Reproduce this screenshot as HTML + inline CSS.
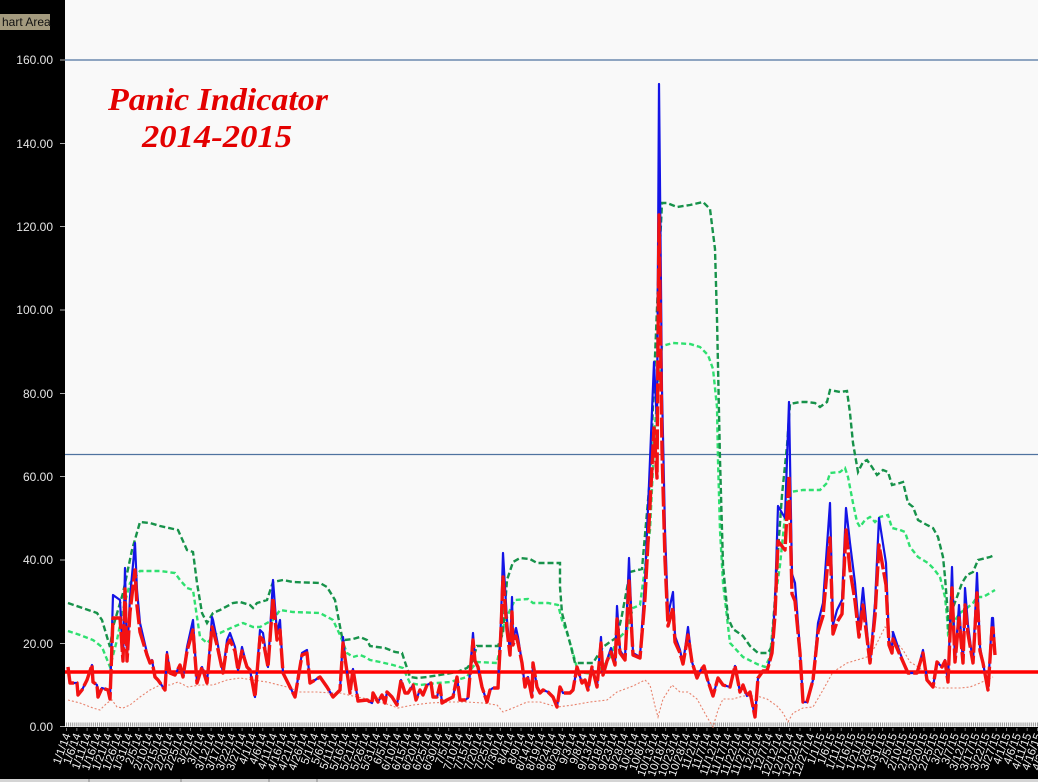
<!DOCTYPE html>
<html><head><meta charset="utf-8">
<style>
html,body{margin:0;padding:0;background:#000;}
svg{display:block;}
.yl{font-family:"Liberation Sans",sans-serif;font-size:12px;fill:#e6e6e6;text-anchor:end;}
.xl text{font-family:"Liberation Sans",sans-serif;font-size:11.5px;fill:#f0f0f0;text-anchor:end;dominant-baseline:central;}
</style></head>
<body>
<svg width="1038" height="782" viewBox="0 0 1038 782" xmlns="http://www.w3.org/2000/svg">
<rect x="0" y="0" width="1038" height="782" fill="#000"/>
<rect x="65" y="0" width="973" height="727" fill="#f9f9f9"/>
<!-- tooltip -->
<rect x="0" y="14" width="50" height="16" fill="#a39a7e"/>
<text x="2" y="26" font-family="Liberation Sans, sans-serif" font-size="12" fill="#111">hart Area</text>
<!-- y labels and ticks -->
<g class="yl">
<text x="53" y="731">0.00</text>
<text x="53" y="648">20.00</text>
<text x="53" y="564">40.00</text>
<text x="53" y="481">60.00</text>
<text x="53" y="398">80.00</text>
<text x="53" y="314">100.00</text>
<text x="53" y="231">120.00</text>
<text x="53" y="148">140.00</text>
<text x="53" y="64">160.00</text>
</g>
<g stroke="#aaa" stroke-width="1">
<line x1="60" y1="726.5" x2="65" y2="726.5"/><line x1="60" y1="643.5" x2="65" y2="643.5"/>
<line x1="60" y1="560" x2="65" y2="560"/><line x1="60" y1="476.5" x2="65" y2="476.5"/>
<line x1="60" y1="393.5" x2="65" y2="393.5"/><line x1="60" y1="310" x2="65" y2="310"/>
<line x1="60" y1="226.5" x2="65" y2="226.5"/><line x1="60" y1="143.5" x2="65" y2="143.5"/>
<line x1="60" y1="60" x2="65" y2="60"/>
</g>
<!-- horizontal blue lines -->
<line x1="65" y1="60" x2="1038" y2="60" stroke="#4f73a0" stroke-width="1.3"/>
<line x1="65" y1="454.5" x2="1038" y2="454.5" stroke="#4f73a0" stroke-width="1.3"/>
<!-- axis minor ticks -->
<line x1="66" y1="724.5" x2="1038" y2="724.5" stroke="#9a9a9a" stroke-width="4" stroke-dasharray="1 1.066"/>
<line x1="66" y1="729.5" x2="1038" y2="729.5" stroke="#777" stroke-width="3" stroke-dasharray="1 9.33"/>
<!-- title -->
<text x="108" y="110" font-family="Liberation Serif, serif" font-weight="bold" font-style="italic" font-size="32" fill="#e30000" textLength="220" lengthAdjust="spacingAndGlyphs">Panic Indicator</text>
<text x="142" y="147" font-family="Liberation Serif, serif" font-weight="bold" font-style="italic" font-size="32" fill="#e30000" textLength="150" lengthAdjust="spacingAndGlyphs">2014-2015</text>

<!-- orange lower band -->
<polyline fill="none" stroke="#e8826c" stroke-width="1.1" stroke-dasharray="2 2" points="68,700 80,703 93,708 100,710 107,703 112,700 117,707 123,708 130,705 140,697 150,690 160,685 170,685 178,682 188,687 200,685 213,685 227,680 240,678 253,680 267,682 287,687 300,692 317,692 333,693 340,693 357,697 373,700 390,705 398,708 413,705 430,703 450,702 467,702 483,703 497,705 503,712 513,708 527,702 540,702 557,707 573,705 590,702 607,700 617,692 633,686 645,680 650,685 655,706 658,717 663,699 672,685 680,692 688,692 697,699 707,717 713,727 718,710 723,699 733,699 743,696 757,696 767,699 777,706 783,713 788,722 793,713 803,708 813,707 823,690 833,672 847,663 857,660 867,657 875,647 885,627 892,632 897,643 903,650 910,662 920,668 930,682 937,688 947,688 960,688 970,687 980,683 993,677"/>

<!-- light green middle band -->
<polyline fill="none" stroke="#2fe070" stroke-width="2.4" stroke-dasharray="5 3" points="68,631 80,635 93,640 102,647 110,667 117,640 123,610 130,583 140,571 160,571 175,573 180,580 187,588 193,590 197,617 200,637 207,643 217,633 220,633 233,627 243,623 253,627 260,627 267,623 273,620 280,610 293,612 320,613 333,620 340,635 347,653 353,657 360,655 365,657 370,660 380,662 393,665 403,668 410,683 420,685 437,683 450,682 467,677 472,668 477,662 497,663 500,647 503,627 510,610 515,600 528,599 533,603 548,603 558,605 562,620 567,633 573,653 578,672 593,674 603,667 610,657 617,640 627,630 633,608 640,605 650,530 655,425 662,346 673,343 690,344 700,347 708,355 713,369 717,407 718,460 720,530 723,583 730,643 743,657 757,664 765,667 770,657 775,601 780,565 785,516 790,492 803,490 820,490 827,483 830,473 840,472 845,468 848,477 853,503 857,522 860,527 865,520 870,517 875,522 880,517 888,515 892,528 900,530 905,532 910,547 918,557 928,563 933,568 940,577 945,597 947,617 948,633 953,623 960,613 967,608 973,603 977,597 983,597 990,593 995,590"/>

<!-- dark green upper band -->
<polyline fill="none" stroke="#17924a" stroke-width="2.4" stroke-dasharray="6 3" points="68,603 97,613 102,620 110,647 113,627 123,593 132,550 140,522 150,523 160,526 178,530 187,550 193,552 197,583 202,613 207,623 213,613 220,610 233,603 240,602 250,605 253,608 257,603 267,600 273,582 283,580 293,582 320,583 327,587 335,600 342,637 345,640 353,639 360,637 367,640 370,646 377,647 385,648 395,652 402,653 410,677 417,678 427,677 440,675 457,672 467,668 472,662 477,646 498,646 503,633 507,580 513,562 520,558 530,559 537,563 560,563 560,587 562,613 570,643 575,663 593,663 603,647 617,637 622,615 630,572 642,569 650,478 658,284 662,203 667,203 677,207 690,205 703,202 710,209 715,249 717,319 720,460 723,565 728,618 733,629 743,636 750,646 758,653 768,653 772,646 777,565 782,495 787,446 790,404 800,402 807,402 815,403 820,407 827,402 830,390 840,392 847,391 850,413 853,443 858,472 863,462 867,460 872,467 877,475 883,470 888,472 892,485 900,483 903,482 908,503 913,507 918,520 927,525 933,528 938,537 943,557 945,577 947,603 949,633 952,610 957,597 962,583 967,575 973,572 978,560 990,557 995,555"/>

<!-- red horizontal threshold -->
<line x1="65" y1="672" x2="1038" y2="672" stroke="#ff0000" stroke-width="3.6"/>

<!-- blue main series -->
<polyline fill="none" stroke="#1414e6" stroke-width="2.2" stroke-linejoin="round" points="68,667 70,683 77,683 78,695 82,690 87,680 92,665 93,682 97,685 98,697 102,688 108,690 110,699 113,595 120,600 123,660 125,568 127,660 130,597 135,543 137,590 140,623 147,653 150,663 152,660 155,677 158,680 165,690 167,652 170,673 175,675 180,665 183,677 187,647 193,620 197,683 202,667 207,683 212,617 213,620 217,640 223,673 227,640 230,633 235,647 238,670 242,647 247,667 250,670 255,697 260,630 263,633 268,667 273,580 277,633 280,620 283,673 290,687 295,697 302,653 307,650 310,683 315,680 320,677 327,687 333,697 340,690 343,637 345,657 350,693 353,669 358,701 367,700 372,703 373,693 378,702 382,695 385,703 387,692 392,697 397,705 401,680 405,693 408,693 413,685 416,700 420,690 423,695 427,685 431,683 433,697 437,697 440,685 442,703 447,700 453,697 457,677 460,700 465,700 468,698 473,633 475,660 478,667 482,687 487,702 490,690 493,688 498,688 501,620 503,553 505,587 507,620 510,653 512,597 513,640 516,628 518,637 522,663 525,687 528,677 532,697 533,663 537,687 540,693 543,690 548,692 553,697 557,707 560,687 563,693 570,693 573,690 577,667 582,683 585,680 588,690 592,667 597,687 601,637 603,675 607,660 611,648 615,665 617,606 620,650 625,659 629,558 633,653 640,657 645,580 650,460 654,362 657,425 659,84 662,390 665,530 668,615 673,592 675,636 680,650 683,664 688,627 692,662 697,678 700,671 704,666 707,678 713,696 718,678 723,685 730,687 735,666 740,692 743,685 747,696 750,692 755,717 758,678 763,671 767,671 772,650 775,601 778,506 785,518 789,402 792,574 795,583 800,650 803,702 807,702 813,680 818,623 823,603 830,503 833,625 837,610 842,600 846,508 850,543 855,583 859,630 863,588 870,663 875,603 879,518 886,563 889,640 892,650 893,632 900,653 908,673 917,673 923,650 927,680 933,687 937,662 942,667 945,660 948,682 952,567 955,662 959,605 963,663 965,588 968,625 973,663 977,573 980,647 983,663 988,690 992,618 993,618 995,652"/>

<!-- red dashed series -->
<polyline fill="none" stroke="#f21212" stroke-width="3.4" stroke-linejoin="round" stroke-dasharray="20 3" points="68,667 70,683 77,683 78,695 82,690 87,680 92,665 93,682 97,685 98,697 102,688 108,690 110,699 113,618 120,618 123,661 125,589 127,661 130,612 135,570 137,606 140,632 147,655 150,663 152,661 155,677 158,680 165,690 167,655 170,673 175,675 180,665 183,677 187,651 193,630 197,683 202,667 207,683 212,627 213,630 217,645 223,673 227,645 230,640 235,651 238,670 242,651 247,667 250,670 255,697 260,637 263,640 268,667 273,598 277,640 280,630 283,673 290,687 295,697 302,655 307,653 310,683 315,680 320,677 327,687 333,697 340,690 343,643 345,658 350,693 353,669 358,701 367,700 372,703 373,693 378,702 382,695 385,703 387,692 392,697 397,705 401,680 405,693 408,693 413,685 416,700 420,690 423,695 427,685 431,683 433,697 437,697 440,685 442,703 447,700 453,697 457,677 460,700 465,700 468,698 473,640 475,661 478,667 482,687 487,702 490,690 493,688 498,688 501,630 503,577 505,604 507,630 510,655 512,612 513,645 516,636 518,643 522,663 525,687 528,677 532,697 533,663 537,687 540,693 543,690 548,692 553,697 557,707 560,687 563,693 570,693 573,690 577,667 582,683 585,680 588,690 592,667 597,687 601,643 603,675 607,661 611,652 615,665 617,619 620,653 625,660 629,581 633,655 640,658 645,598 650,505 654,428 657,478 659,215 662,450 665,560 668,626 673,608 675,642 680,653 683,664 688,635 692,662 697,678 700,671 704,666 707,678 713,696 718,678 723,685 730,687 735,666 740,692 743,685 747,696 750,692 755,717 758,678 763,671 767,671 772,653 775,615 778,541 785,550 789,476 792,594 795,601 800,653 803,702 807,702 813,680 818,632 823,616 830,538 833,634 837,622 842,614 846,530 850,570 855,601 859,637 863,605 870,663 875,616 879,545 886,585 889,645 892,653 893,639 900,655 908,673 917,673 923,653 927,680 933,687 937,662 942,667 945,661 948,682 952,588 955,662 959,618 963,663 965,605 968,634 973,663 977,593 980,651 983,663 988,690 992,628 993,628 995,655"/>

<!-- x labels -->
<g class="xl">
<text transform="translate(68,734) rotate(-70)">1/1/14</text>
<text transform="translate(78.3,734) rotate(-70)">1/6/14</text>
<text transform="translate(88.7,734) rotate(-70)">1/11/14</text>
<text transform="translate(99,734) rotate(-70)">1/16/14</text>
<text transform="translate(109.3,734) rotate(-70)">1/21/14</text>
<text transform="translate(119.7,734) rotate(-70)">1/26/14</text>
<text transform="translate(130,734) rotate(-70)">1/31/14</text>
<text transform="translate(140.3,734) rotate(-70)">2/5/14</text>
<text transform="translate(150.6,734) rotate(-70)">2/10/14</text>
<text transform="translate(161,734) rotate(-70)">2/15/14</text>
<text transform="translate(171.3,734) rotate(-70)">2/20/14</text>
<text transform="translate(181.6,734) rotate(-70)">2/25/14</text>
<text transform="translate(192,734) rotate(-70)">3/2/14</text>
<text transform="translate(202.3,734) rotate(-70)">3/7/14</text>
<text transform="translate(212.6,734) rotate(-70)">3/12/14</text>
<text transform="translate(223,734) rotate(-70)">3/17/14</text>
<text transform="translate(233.3,734) rotate(-70)">3/22/14</text>
<text transform="translate(243.6,734) rotate(-70)">3/27/14</text>
<text transform="translate(253.9,734) rotate(-70)">4/1/14</text>
<text transform="translate(264.3,734) rotate(-70)">4/6/14</text>
<text transform="translate(274.6,734) rotate(-70)">4/11/14</text>
<text transform="translate(284.9,734) rotate(-70)">4/16/14</text>
<text transform="translate(295.3,734) rotate(-70)">4/21/14</text>
<text transform="translate(305.6,734) rotate(-70)">4/26/14</text>
<text transform="translate(315.9,734) rotate(-70)">5/1/14</text>
<text transform="translate(326.3,734) rotate(-70)">5/6/14</text>
<text transform="translate(336.6,734) rotate(-70)">5/11/14</text>
<text transform="translate(346.9,734) rotate(-70)">5/16/14</text>
<text transform="translate(357.2,734) rotate(-70)">5/21/14</text>
<text transform="translate(367.6,734) rotate(-70)">5/26/14</text>
<text transform="translate(377.9,734) rotate(-70)">5/31/14</text>
<text transform="translate(388.2,734) rotate(-70)">6/5/14</text>
<text transform="translate(398.6,734) rotate(-70)">6/10/14</text>
<text transform="translate(408.9,734) rotate(-70)">6/15/14</text>
<text transform="translate(419.2,734) rotate(-70)">6/20/14</text>
<text transform="translate(429.6,734) rotate(-70)">6/25/14</text>
<text transform="translate(439.9,734) rotate(-70)">6/30/14</text>
<text transform="translate(450.2,734) rotate(-70)">7/5/14</text>
<text transform="translate(460.5,734) rotate(-70)">7/10/14</text>
<text transform="translate(470.9,734) rotate(-70)">7/15/14</text>
<text transform="translate(481.2,734) rotate(-70)">7/20/14</text>
<text transform="translate(491.5,734) rotate(-70)">7/25/14</text>
<text transform="translate(501.9,734) rotate(-70)">7/30/14</text>
<text transform="translate(512.2,734) rotate(-70)">8/4/14</text>
<text transform="translate(522.5,734) rotate(-70)">8/9/14</text>
<text transform="translate(532.9,734) rotate(-70)">8/14/14</text>
<text transform="translate(543.2,734) rotate(-70)">8/19/14</text>
<text transform="translate(553.5,734) rotate(-70)">8/24/14</text>
<text transform="translate(563.8,734) rotate(-70)">8/29/14</text>
<text transform="translate(574.2,734) rotate(-70)">9/3/14</text>
<text transform="translate(584.5,734) rotate(-70)">9/8/14</text>
<text transform="translate(594.8,734) rotate(-70)">9/13/14</text>
<text transform="translate(605.2,734) rotate(-70)">9/18/14</text>
<text transform="translate(615.5,734) rotate(-70)">9/23/14</text>
<text transform="translate(625.8,734) rotate(-70)">9/28/14</text>
<text transform="translate(636.2,734) rotate(-70)">10/3/14</text>
<text transform="translate(646.5,734) rotate(-70)">10/8/14</text>
<text transform="translate(656.8,734) rotate(-70)">10/13/14</text>
<text transform="translate(667.1,734) rotate(-70)">10/18/14</text>
<text transform="translate(677.5,734) rotate(-70)">10/23/14</text>
<text transform="translate(687.8,734) rotate(-70)">10/28/14</text>
<text transform="translate(698.1,734) rotate(-70)">11/2/14</text>
<text transform="translate(708.5,734) rotate(-70)">11/7/14</text>
<text transform="translate(718.8,734) rotate(-70)">11/12/14</text>
<text transform="translate(729.1,734) rotate(-70)">11/17/14</text>
<text transform="translate(739.5,734) rotate(-70)">11/22/14</text>
<text transform="translate(749.8,734) rotate(-70)">11/27/14</text>
<text transform="translate(760.1,734) rotate(-70)">12/2/14</text>
<text transform="translate(770.4,734) rotate(-70)">12/7/14</text>
<text transform="translate(780.8,734) rotate(-70)">12/12/14</text>
<text transform="translate(791.1,734) rotate(-70)">12/17/14</text>
<text transform="translate(801.4,734) rotate(-70)">12/22/14</text>
<text transform="translate(811.8,734) rotate(-70)">12/27/14</text>
<text transform="translate(822.1,734) rotate(-70)">1/1/15</text>
<text transform="translate(832.4,734) rotate(-70)">1/6/15</text>
<text transform="translate(842.8,734) rotate(-70)">1/11/15</text>
<text transform="translate(853.1,734) rotate(-70)">1/16/15</text>
<text transform="translate(863.4,734) rotate(-70)">1/21/15</text>
<text transform="translate(873.7,734) rotate(-70)">1/26/15</text>
<text transform="translate(884.1,734) rotate(-70)">1/31/15</text>
<text transform="translate(894.4,734) rotate(-70)">2/5/15</text>
<text transform="translate(904.7,734) rotate(-70)">2/10/15</text>
<text transform="translate(915.1,734) rotate(-70)">2/15/15</text>
<text transform="translate(925.4,734) rotate(-70)">2/20/15</text>
<text transform="translate(935.7,734) rotate(-70)">2/25/15</text>
<text transform="translate(946.1,734) rotate(-70)">3/2/15</text>
<text transform="translate(956.4,734) rotate(-70)">3/7/15</text>
<text transform="translate(966.7,734) rotate(-70)">3/12/15</text>
<text transform="translate(977,734) rotate(-70)">3/17/15</text>
<text transform="translate(987.4,734) rotate(-70)">3/22/15</text>
<text transform="translate(997.7,734) rotate(-70)">3/27/15</text>
<text transform="translate(1008,734) rotate(-70)">4/1/15</text>
<text transform="translate(1018.4,734) rotate(-70)">4/6/15</text>
<text transform="translate(1028.7,734) rotate(-70)">4/11/15</text>
<text transform="translate(1039,734) rotate(-70)">4/16/15</text>
<text transform="translate(1049.3,734) rotate(-70)">4/21/15</text>
</g>
<!-- bottom status strip -->
<rect x="0" y="779" width="1038" height="3" fill="#d4d4d4"/>
<g stroke="#888" stroke-width="1">
<line x1="89" y1="779" x2="89" y2="782"/><line x1="181" y1="779" x2="181" y2="782"/>
<line x1="269" y1="779" x2="269" y2="782"/><line x1="317" y1="779" x2="317" y2="782"/>
</g>
</svg>
</body></html>
